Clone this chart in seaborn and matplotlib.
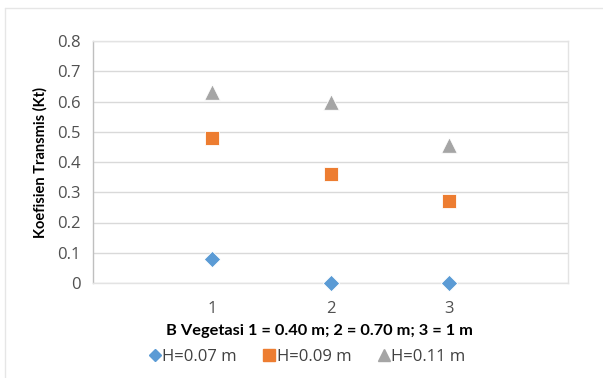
import matplotlib
matplotlib.use("Agg")
import matplotlib.pyplot as plt
import seaborn as sns
import pandas as pd
from matplotlib.lines import Line2D

# Data
vegetation = [1, 2, 3]
kt_h007 = [0.08, 0.0, 0.0]
kt_h009 = [0.48, 0.36, 0.27]
kt_h011 = [0.63, 0.60, 0.455]
series_labels = ["H=0.07 m", "H=0.09 m", "H=0.11 m"]
y_ticks = [0, 0.1, 0.2, 0.3, 0.4, 0.5, 0.6, 0.7, 0.8]
y_tick_labels = ["0", "0.1", "0.2", "0.3", "0.4", "0.5", "0.6", "0.7", "0.8"]

df = pd.DataFrame({
    "B": vegetation * 3,
    "Kt": kt_h007 + kt_h009 + kt_h011,
    "H": [series_labels[0]] * 3 + [series_labels[1]] * 3 + [series_labels[2]] * 3,
})

sns.set_theme(style="white")
plt.rcParams["font.family"] = ["Open Sans", "DejaVu Sans"]

colors = {series_labels[0]: "#5B9BD5", series_labels[1]: "#ED7D31", series_labels[2]: "#A5A5A5"}
markers = {series_labels[0]: "D", series_labels[1]: "s", series_labels[2]: "^"}
sizes = {series_labels[0]: 70, series_labels[1]: 110, series_labels[2]: 125}

fig = plt.figure(figsize=(6.03, 3.78), dpi=100)
ax = fig.add_axes([93 / 603, 1 - 283 / 378, (568 - 93) / 603, (283 - 41) / 378])

for lab in series_labels:
    sub = df[df["H"] == lab]
    sns.scatterplot(data=sub, x="B", y="Kt", color=colors[lab], marker=markers[lab],
                    s=sizes[lab], edgecolor="white", linewidth=0.6, ax=ax, legend=False,
                    zorder=3, clip_on=False)

ax.set_xlim(0, 4)
ax.set_ylim(0, 0.8)
ax.set_xticks(vegetation)
ax.set_xticklabels([str(v) for v in vegetation])
ax.set_yticks(y_ticks)
ax.set_yticklabels(y_tick_labels)
ax.tick_params(axis="both", length=0, labelsize=12, colors="#505050")
ax.tick_params(axis="x", pad=13)
ax.tick_params(axis="y", pad=9)
ax.yaxis.grid(True, color="#D9D9D9", linewidth=1)
ax.set_axisbelow(True)
for side in ["top", "right", "bottom"]:
    ax.spines[side].set_color("#E3E3E3")
    ax.spines[side].set_linewidth(1)
ax.spines["left"].set_color("#BFBFBF")
ax.spines["left"].set_linewidth(1)

ax.set_xlabel("")
ax.set_ylabel("Koefisien Transmis (Kt)", fontsize=10.5, fontweight="bold", color="black",
              labelpad=7, family=["Lato", "DejaVu Sans"])

fig.text(319 / 603, 1 - 331 / 378, "B Vegetasi 1 = 0.40 m; 2 = 0.70 m; 3 = 1 m",
         ha="center", va="center", fontsize=11.8, fontweight="bold", color="black",
         family=["Lato", "DejaVu Sans"])

handles = [Line2D([], [], linestyle="none", marker=markers[l], color=colors[l],
                  markersize={"D": 6, "s": 9, "^": 8}[markers[l]]) for l in series_labels]
fig.legend(handles, series_labels, loc="center", bbox_to_anchor=(308 / 603, 1 - 357 / 378),
           ncol=3, frameon=False, fontsize=12, handletextpad=0.2, columnspacing=1.7,
           handlelength=0.5, labelcolor="#404040")

# Faint outer frame lines along top and left
fig.add_artist(Line2D([5 / 603, 1], [1 - 8 / 378, 1 - 8 / 378], color="#E6E6E6", linewidth=1,
                      transform=fig.transFigure))
fig.add_artist(Line2D([5 / 603, 5 / 603], [0, 1 - 8 / 378], color="#E6E6E6", linewidth=1,
                      transform=fig.transFigure))

fig.savefig("out.png", dpi=100)
